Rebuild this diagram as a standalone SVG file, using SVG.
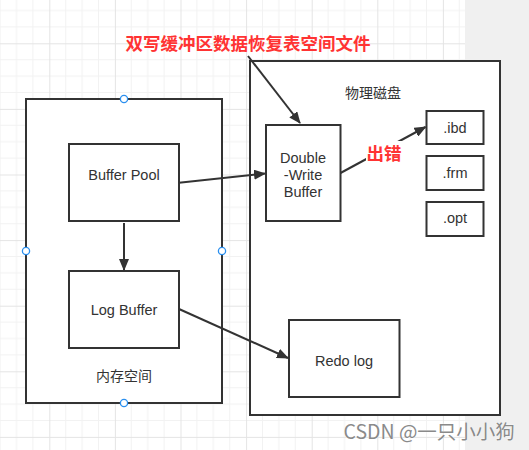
<svg xmlns="http://www.w3.org/2000/svg" width="529" height="450" viewBox="0 0 529 450">
<style>
.box{fill:#fff;stroke:#333;stroke-width:2}
.lbl{font-family:"Liberation Sans","Noto Sans CJK SC",sans-serif;font-size:14.5px;fill:#333;text-anchor:middle}
.cjk{font-family:"Noto Sans CJK SC",sans-serif;font-size:14px;fill:#333;text-anchor:middle}
.red{font-family:"Noto Sans CJK SC",sans-serif;font-size:17.5px;font-weight:bold;fill:#ff3333;text-anchor:middle}
.edge{fill:none;stroke:#333;stroke-width:2}
.handle{fill:#fff;stroke:#2a8fef;stroke-width:1.3}
</style>
<defs>
<pattern id="grid" patternUnits="userSpaceOnUse" x="-16.3" y="-22.3" width="65.6" height="65.6">
<path d="M16.4 0V65.6M32.8 0V65.6M49.2 0V65.6M0 16.4H65.6M0 32.8H65.6M0 49.2H65.6" stroke="#f2f2f2" stroke-width="1"/>
<path d="M0.5 0V65.6M0 0.5H65.6" stroke="#e4e4e4" stroke-width="1"/>
</pattern>
<marker id="arrL" markerWidth="12" markerHeight="10" refX="11" refY="5" orient="auto" markerUnits="userSpaceOnUse">
<path d="M0 0L12 5L0 10Z" fill="#333"/>
</marker>
</defs>
<rect x="0" y="0" width="529" height="450" fill="#fff"/>
<rect x="0" y="0" width="465" height="450" fill="url(#grid)"/>
<rect x="465" y="0" width="64" height="450" fill="#f0f0f0"/>

<g id="memory">
<rect class="box" x="26" y="99" width="196" height="304"/>
<text class="cjk" x="124" y="381">内存空间</text>
</g>
<g id="disk">
<rect class="box" x="250" y="61" width="250" height="354"/>
<text class="cjk" x="373" y="98">物理磁盘</text>
</g>
<g id="bufferpool">
<rect class="box" x="69" y="144" width="110" height="77"/>
<text class="lbl" x="124" y="180">Buffer Pool</text>
</g>
<g id="logbuffer">
<rect class="box" x="69" y="271" width="110" height="77"/>
<text class="lbl" x="124" y="315">Log Buffer</text>
</g>
<g id="doublewrite">
<rect class="box" x="266" y="125" width="74.5" height="96"/>
<text class="lbl" x="303" y="163">Double</text>
<text class="lbl" x="303" y="180">-Write</text>
<text class="lbl" x="303" y="197">Buffer</text>
</g>
<g id="ibd">
<rect class="box" x="426.5" y="111" width="57" height="33"/>
<text class="lbl" x="455" y="132.5">.ibd</text>
</g>
<g id="frm">
<rect class="box" x="426.5" y="156" width="57" height="34"/>
<text class="lbl" x="455" y="178">.frm</text>
</g>
<g id="opt">
<rect class="box" x="426.5" y="202" width="57" height="34"/>
<text class="lbl" x="455" y="223">.opt</text>
</g>
<g id="redolog">
<rect class="box" x="289" y="320" width="110.5" height="77"/>
<text class="lbl" x="344" y="365.5">Redo log</text>
</g>

<g id="connectors">
<line class="edge" x1="124" y1="223" x2="124" y2="270" marker-end="url(#arrL)"/>
<line class="edge" x1="179" y1="182.7" x2="265" y2="173.5" marker-end="url(#arrL)"/>
<line class="edge" x1="179" y1="309" x2="288" y2="358" marker-end="url(#arrL)"/>
<line class="edge" x1="248" y1="56" x2="300" y2="123" marker-end="url(#arrL)"/>
<line class="edge" x1="340.5" y1="173" x2="425.5" y2="127" marker-end="url(#arrL)"/>
<rect x="366" y="141" width="36" height="21" fill="#fff"/>
<text class="red" x="384" y="159.5">出错</text>
</g>

<g id="handles">
<circle class="handle" cx="124" cy="99" r="3.6"/>
<circle class="handle" cx="26" cy="251" r="3.6"/>
<circle class="handle" cx="222" cy="251" r="3.6"/>
<circle class="handle" cx="124" cy="403" r="3.6"/>
</g>

<text class="red" x="248" y="50">双写缓冲区数据恢复表空间文件</text>
<text x="343.5" y="438.5" font-family="'Noto Sans CJK SC',sans-serif" font-size="19.5" fill="#8a8a8a" stroke="#fff" stroke-width="0.6" paint-order="stroke">CSDN @一只小小狗</text>
</svg>
